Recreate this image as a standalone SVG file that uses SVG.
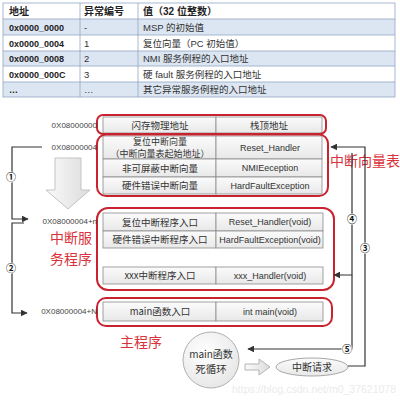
<svg xmlns="http://www.w3.org/2000/svg" width="400" height="402" viewBox="0 0 400 402">
<defs>
<linearGradient id="cellg" x1="0" y1="0" x2="0" y2="1"><stop offset="0" stop-color="#fbfbfb"/><stop offset="1" stop-color="#e8e8e8"/></linearGradient>
<linearGradient id="arrg" x1="0" y1="0" x2="1" y2="0"><stop offset="0" stop-color="#fafafa"/><stop offset="1" stop-color="#dcdcdc"/></linearGradient>
<radialGradient id="circg" cx="0.4" cy="0.35" r="0.7"><stop offset="0" stop-color="#ffffff"/><stop offset="1" stop-color="#e6e6e6"/></radialGradient>
<marker id="ah" viewBox="0 0 10 10" refX="9" refY="5" markerWidth="7" markerHeight="7" orient="auto" markerUnits="userSpaceOnUse"><path d="M0,0 L10,5 L0,10 z" fill="#333"/></marker>
<style>
.tb{fill:none;stroke:#8fa6c2;stroke-width:0.8}
.blue{fill:#dce6f2}
.th{font-family:"Liberation Sans","Noto Sans CJK SC",sans-serif;font-weight:bold;font-size:10px;fill:#222}
.tc{font-family:"Liberation Sans","Noto Sans CJK SC",sans-serif;font-size:9.5px;fill:#333}
.tcb{font-family:"Liberation Sans","Noto Sans CJK SC",sans-serif;font-weight:bold;font-size:9px;fill:#222}
.cell{fill:url(#cellg);stroke:#8a8a8a;stroke-width:0.8}
.red{fill:none;stroke:#c8232f;stroke-width:2}
.ct{font-family:"Noto Sans CJK SC",sans-serif;font-size:9.5px;fill:#333;text-anchor:middle}
.et{font-family:"Liberation Sans","Noto Sans CJK SC",sans-serif;font-size:9px;fill:#333;text-anchor:middle}
.addr{font-family:"Liberation Sans",sans-serif;font-size:8px;fill:#444;text-anchor:end}
.rt{font-family:"Noto Sans CJK SC",sans-serif;font-size:14px;fill:#d8333c}
.ln{fill:none;stroke:#333;stroke-width:1.2}
.num{font-family:"Noto Sans CJK SC","DejaVu Sans",sans-serif;font-size:10px;font-weight:bold;fill:#111;text-anchor:middle}
</style>
</defs>
<rect width="400" height="402" fill="#fff"/>

<g id="table">
<rect class="blue" x="3" y="19" width="392" height="16"/>
<rect class="blue" x="3" y="51" width="392" height="15"/>
<rect class="blue" x="3" y="82" width="392" height="15"/>
<rect class="tb" x="3" y="3" width="392" height="94"/>
<path class="tb" d="M3,19H395M3,35H395M3,51H395M3,66H395M3,82H395M80,3V97M138,3V97"/>
<text class="th" x="9" y="15">地址</text>
<text class="th" x="84" y="15">异常编号</text>
<text class="th" x="143" y="15">值（32 位整数）</text>
<text class="tcb" x="9" y="30.5">0x0000_0000</text>
<text class="tcb" x="9" y="46.5">0x0000_0004</text>
<text class="tcb" x="9" y="62">0x0000_0008</text>
<text class="tcb" x="9" y="77.5">0x0000_000C</text>
<text class="tcb" x="9" y="93">…</text>
<text class="tc" x="84" y="30.5">-</text>
<text class="tc" x="84" y="46.5">1</text>
<text class="tc" x="84" y="62">2</text>
<text class="tc" x="84" y="77.5">3</text>
<text class="tc" x="84" y="93">…</text>
<text class="tc" x="143" y="30.5">MSP 的初始值</text>
<text class="tc" x="143" y="46.5">复位向量（PC 初始值）</text>
<text class="tc" x="143" y="62">NMI 服务例程的入口地址</text>
<text class="tc" x="143" y="77.5">硬 fault 服务例程的入口地址</text>
<text class="tc" x="143" y="93">其它异常服务例程的入口地址</text>
</g>

<g id="arrow-down">
<polygon points="55,158 81,158 81,190 90,190 68,209 46,190 55,190" fill="url(#arrg)" stroke="#c4c4c4" stroke-width="1"/>
</g>

<g id="flash-addr">
<rect class="cell" x="103" y="117" width="113" height="16"/>
<rect class="cell" x="216" y="117" width="106" height="16"/>
<text class="ct" x="160" y="128.5">闪存物理地址</text>
<text class="ct" x="269" y="128.5">栈顶地址</text>
<rect class="red" x="97" y="115" width="229" height="19" rx="6"/>
<text class="addr" x="97" y="128">0X08000000</text>
</g>

<g id="vector-table">
<rect class="cell" x="103" y="136" width="113" height="23"/>
<rect class="cell" x="216" y="136" width="106" height="23"/>
<rect class="cell" x="103" y="159" width="113" height="18"/>
<rect class="cell" x="216" y="159" width="106" height="18"/>
<rect class="cell" x="103" y="177" width="113" height="17"/>
<rect class="cell" x="216" y="177" width="106" height="17"/>
<text class="ct" x="160" y="145" style="font-size:9px">复位中断向量</text>
<text class="ct" x="160" y="157" style="font-size:9px">（中断向量表起始地址）</text>
<text class="ct" x="160" y="171.5">非可屏蔽中断向量</text>
<text class="ct" x="160" y="189">硬件错误中断向量</text>
<text class="et" x="270" y="150.5">Reset_Handler</text>
<text class="et" x="270" y="171">NMIEeception</text>
<text class="et" x="270" y="188.5">HardFaultException</text>
<rect class="red" x="97" y="134.5" width="231" height="61.5" rx="9"/>
<text class="addr" x="97" y="150">0X08000004</text>
<text class="rt" x="330" y="166">中断向量表</text>
</g>

<g id="isr">
<rect class="cell" x="103" y="213" width="113" height="18"/>
<rect class="cell" x="216" y="213" width="107" height="18"/>
<rect class="cell" x="103" y="231" width="113" height="17"/>
<rect class="cell" x="216" y="231" width="107" height="17"/>
<rect class="cell" x="103" y="267" width="113" height="17"/>
<rect class="cell" x="216" y="267" width="107" height="17"/>
<text class="ct" x="160" y="225.5">复位中断程序入口</text>
<text class="ct" x="160" y="243">硬件错误中断程序入口</text>
<text class="ct" x="160" y="279">xxx中断程序入口</text>
<text class="et" x="270" y="225">Reset_Handler(void)</text>
<text class="et" x="270" y="242.5">HardFaultException(void)</text>
<text class="et" x="270" y="278.5">xxx_Handler(void)</text>
<rect class="red" x="97" y="208" width="237" height="82" rx="11"/>
<text class="addr" x="97" y="224">0X08000004+n</text>
<text class="rt" x="50" y="243">中断服</text>
<text class="rt" x="50" y="264">务程序</text>
</g>

<g id="main-entry">
<rect class="cell" x="103" y="302" width="113" height="19"/>
<rect class="cell" x="216" y="302" width="107" height="19"/>
<text class="ct" x="160" y="315">main函数入口</text>
<text class="et" x="270" y="314.5">int main(void)</text>
<rect class="red" x="97" y="298" width="235" height="28" rx="9"/>
<text class="addr" x="97" y="314">0X08000004+N</text>
<text class="rt" x="120" y="347">主程序</text>
</g>

<g id="main-loop">
<circle cx="211" cy="360" r="28" fill="url(#circg)" stroke="#b0b0b0" stroke-width="1"/>
<text class="ct" x="211" y="358" style="font-size:10px">main函数</text>
<text class="ct" x="211" y="373" style="font-size:10.5px">死循环</text>
</g>

<g id="arrow-right">
<polygon points="245,364 259,364 259,359 270,367 259,375 259,370 245,370" fill="url(#arrg)" stroke="#b4b4b4" stroke-width="1"/>
</g>

<g id="irq">
<ellipse cx="312" cy="367" rx="36" ry="9" fill="url(#cellg)" stroke="#a8a8a8" stroke-width="1"/>
<text class="ct" x="312" y="371" style="font-size:10px">中断请求</text>
</g>

<g id="connectors">
<path class="ln" d="M42,147H12V219H28" marker-end="url(#ah)"/>
<path class="ln" d="M24,223H12V313H27" marker-end="url(#ah)"/>
<path class="ln" d="M348,366H365V147H331" marker-end="url(#ah)"/>
<path class="ln" d="M352,153V275H334" marker-end="url(#ah)"/>
<path class="ln" d="M352,275V349H248" marker-end="url(#ah)"/>
<circle cx="11" cy="177" r="5.5" fill="#fff"/>
<text class="num" x="11" y="180.5">①</text>
<circle cx="11" cy="268" r="5.5" fill="#fff"/>
<text class="num" x="11" y="271.5">②</text>
<circle cx="365" cy="248" r="5.5" fill="#fff"/>
<text class="num" x="365" y="251.5">③</text>
<circle cx="352" cy="219" r="5.5" fill="#fff"/>
<text class="num" x="352" y="222.5">④</text>
<circle cx="347" cy="349" r="5.5" fill="#fff"/>
<text class="num" x="347" y="352.5">⑤</text>
</g>

<text x="232" y="393" style="font-family:'Liberation Sans',sans-serif;font-size:10.5px;fill:#ebebeb">https://blog.csdn.net/m0_37621078</text>
</svg>
